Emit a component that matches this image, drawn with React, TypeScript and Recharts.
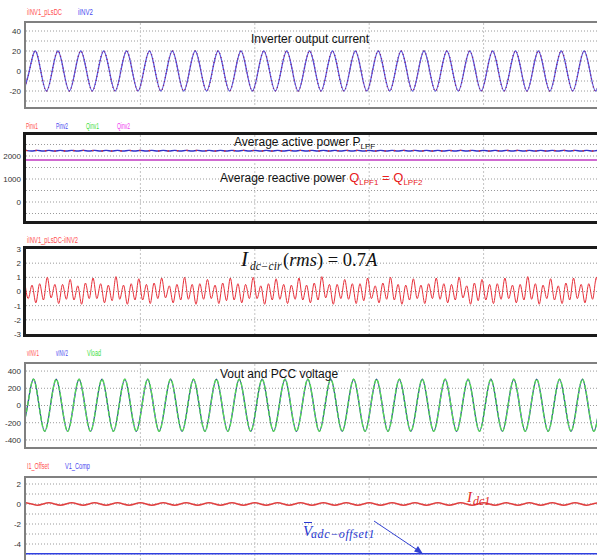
import { LineChart, Line, XAxis, YAxis, CartesianGrid } from 'recharts'
import type { ReactNode } from 'react'

const W = 598
const sans = "'Liberation Sans', Arial, sans-serif"
const narrow = "'Liberation Sans Narrow', 'Arial Narrow', 'Liberation Sans', Arial, sans-serif"
const serif = "'Liberation Serif', 'Times New Roman', serif"

// shared time axis, one unit = a quarter of the line period
const timeDomain = [0, 100]
const timeGrid = [20, 40, 60, 80]

// panel 1: inverter output current, zero crossings / peaks from t = -0.42
const iStart = -0.42
const iInv1 = [
  -20, 0, 20, 0, -20, 0, 20, 0, -20, 0, 20, 0, -20, 0, 20, 0,
  -20, 0, 20, 0, -20, 0, 20, 0, -20, 0, 20, 0, -20, 0, 20, 0,
  -20, 0, 20, 0, -20, 0, 20, 0, -20, 0, 20, 0, -20, 0, 20, 0,
  -20, 0, 20, 0, -20, 0, 20, 0, -20, 0, 20, 0, -20, 0, 20, 0,
  -20, 0, 20, 0, -20, 0, 20, 0, -20, 0, 20, 0, -20, 0, 20, 0,
  -20, 0, 20, 0, -20, 0, 20, 0, -20, 0, 20, 0, -20, 0, 20, 0,
  -20, 0, 20, 0, -20, 0,
]
const iInv2 = iInv1
const iTicks = [40, 20, 0, -20]
const iGrid = [40, 30, 20, 10, 0, -10, -20, -30]

// panel 2: averaged active / reactive power
const pStart = 0
const pInv = [
  2245, 2215, 2245, 2215, 2245, 2215, 2245, 2215, 2245, 2215, 2245, 2215, 2245, 2215, 2245, 2215,
  2245, 2215, 2245, 2215, 2245, 2215, 2245, 2215, 2245, 2215, 2245, 2215, 2245, 2215, 2245, 2215,
  2245, 2215, 2245, 2215, 2245, 2215, 2245, 2215, 2245, 2215, 2245, 2215, 2245, 2215, 2245, 2215,
  2245, 2215, 2245, 2215, 2245, 2215, 2245, 2215, 2245, 2215, 2245, 2215, 2245, 2215, 2245, 2215,
  2245, 2215, 2245, 2215, 2245, 2215, 2245, 2215, 2245, 2215, 2245, 2215, 2245, 2215, 2245, 2215,
  2245, 2215, 2245, 2215, 2245, 2215, 2245, 2215, 2245, 2215, 2245, 2215, 2245, 2215, 2245, 2215,
  2245, 2215, 2245, 2215, 2245,
]
const qTimes = [0, 100]
const qInv = [1826, 1826]
const pTicks = [2000, 1000, 0]
const pGrid = [2500, 2000, 1500, 1000, 500, 0, -500]

// panel 3: circulating current, peaks/valleys every 2/3 unit from t = -0.28
const cStart = -0.28
const cStep = 4 / 6
const iCir = [
  0.9, -0.5, 0.45, -0.8, 0.55, -0.6,
  1.0, -0.45, 0.5, -0.85, 0.5, -0.55,
  0.85, -0.6, 0.4, -0.9, 0.6, -0.5,
  0.95, -0.5, 0.55, -0.8, 0.45, -0.65,
  1.05, -0.55, 0.45, -0.9, 0.55, -0.6,
  0.9, -0.6, 0.5, -0.85, 0.6, -0.5,
  0.95, -0.45, 0.4, -0.8, 0.5, -0.6,
  1.0, -0.55, 0.5, -0.9, 0.55, -0.55,
  0.85, -0.5, 0.45, -0.85, 0.6, -0.65,
  0.95, -0.6, 0.55, -0.8, 0.5, -0.5,
  1.0, -0.5, 0.4, -0.9, 0.55, -0.6,
  0.9, -0.55, 0.5, -0.85, 0.45, -0.55,
  0.95, -0.6, 0.45, -0.8, 0.6, -0.6,
  1.05, -0.45, 0.5, -0.9, 0.5, -0.5,
  0.85, -0.55, 0.55, -0.85, 0.55, -0.65,
  0.95, -0.5, 0.4, -0.8, 0.6, -0.55,
  1.0, -0.6, 0.5, -0.9, 0.45, -0.6,
  0.9, -0.5, 0.45, -0.85, 0.55, -0.5,
  0.95, -0.55, 0.55, -0.8, 0.5, -0.6,
  1.0, -0.45, 0.4, -0.9, 0.6, -0.65,
  0.85, -0.6, 0.5, -0.85, 0.55, -0.55,
  0.95, -0.5, 0.45, -0.8, 0.5, -0.6,
  1.05, -0.55, 0.55, -0.9, 0.45, -0.5,
  0.9, -0.6, 0.4, -0.85, 0.6, -0.6,
  0.95, -0.5, 0.5, -0.8, 0.55, -0.55,
  1.0, -0.55, 0.45, -0.9, 0.5, -0.6,
]
const cTicks = [3, 2, 1, 0, -1, -2, -3]
const cGrid = [2, 1, 0, -1, -2]

// panel 4: inverter and load voltages, from t = -0.72
const vStart = -0.72
const vInv = [
  -300, 0, 305, 0, -300, 0, 305, 0, -300, 0, 305, 0, -300, 0, 305, 0,
  -300, 0, 305, 0, -300, 0, 305, 0, -300, 0, 305, 0, -300, 0, 305, 0,
  -300, 0, 305, 0, -300, 0, 305, 0, -300, 0, 305, 0, -300, 0, 305, 0,
  -300, 0, 305, 0, -300, 0, 305, 0, -300, 0, 305, 0, -300, 0, 305, 0,
  -300, 0, 305, 0, -300, 0, 305, 0, -300, 0, 305, 0, -300, 0, 305, 0,
  -300, 0, 305, 0, -300, 0, 305, 0, -300, 0, 305, 0, -300, 0, 305, 0,
  -300, 0, 305, 0, -300, 0,
]
const vLoad = vInv
const vTicks = [400, 200, 0, -200, -400]
const vGrid = [400, 200, 0, -200, -400]

// panel 5: offset estimate and compensation
const oStart = 0
const i1Offset = [
  0.12, 0, -0.12, 0, 0.12, 0, -0.12, 0, 0.12, 0, -0.12, 0, 0.12, 0, -0.12, 0,
  0.12, 0, -0.12, 0, 0.12, 0, -0.12, 0, 0.12, 0, -0.12, 0, 0.12, 0, -0.12, 0,
  0.12, 0, -0.12, 0, 0.12, 0, -0.12, 0, 0.12, 0, -0.12, 0, 0.12, 0, -0.12, 0,
  0.12, 0, -0.12, 0, 0.12, 0, -0.12, 0, 0.12, 0, -0.12, 0, 0.12, 0, -0.12, 0,
  0.12, 0, -0.12, 0, 0.12, 0, -0.12, 0, 0.12, 0, -0.12, 0, 0.12, 0, -0.12, 0,
  0.12, 0, -0.12, 0, 0.12, 0, -0.12, 0, 0.12, 0, -0.12, 0, 0.12, 0, -0.12, 0,
  0.12, 0, -0.12, 0, 0.12,
]
const compTimes = [0, 100]
const v1Comp = [-4.97, -4.97]
const oTicks = [2, 0, -2, -4]
const oGrid = [2, 1, 0, -1, -2, -3, -4, -5]

const rows = (start: number, step: number, a: number[], b?: number[]) =>
  a.map((v, i) => ({ t: start + i * step, a: v, b: b ? b[i] : v }))

const p1Data = rows(iStart, 1, iInv1, iInv2)
const p2Data = rows(pStart, 1, pInv)
const qData = qTimes.map((t, i) => ({ t, q: qInv[i] }))
const p3Data = rows(cStart, cStep, iCir)
const p4Data = rows(vStart, 1, vInv, vLoad)
const p5Data = rows(oStart, 1, i1Offset)
const compData = compTimes.map((t, i) => ({ t, c: v1Comp[i] }))

type PanelProps = {
  top: number
  bottom: number
  data: object[]
  domain: number[]
  ticks: number[]
  grid: number[]
  children: ReactNode
}

function Panel({ top, bottom, data, domain, ticks, grid, children }: PanelProps) {
  const h = bottom - top
  return (
    <div style={{ position: 'absolute', left: 0, top: top - 8 }}>
      <LineChart width={W} height={h + 16} data={data} margin={{ top: 8, right: 0, bottom: 8, left: 0 }}>
        <CartesianGrid vertical={false} horizontalValues={grid} stroke="#9a9a9a" strokeDasharray="1 2" />
        <CartesianGrid horizontal={false} verticalValues={timeGrid} stroke="#c4c4c4" strokeDasharray="2 2" />
        <XAxis type="number" dataKey="t" domain={timeDomain} allowDataOverflow hide />
        <YAxis
          type="number"
          domain={domain}
          ticks={ticks}
          interval={0}
          allowDataOverflow
          width={26}
          axisLine={false}
          tickLine={false}
          tickSize={3}
          tickMargin={2}
          tick={{ fontSize: 8, fill: '#333', fontFamily: narrow }}
        />
        {children}
      </LineChart>
    </div>
  )
}

// plot frames: top, bottom, border width, colour (open on the right, cut by the image)
type Frame = { top: number; bottom: number; bw: number; color: string }
const frames: Frame[] = [
  { top: 23, bottom: 107, bw: 2, color: '#808080' },
  { top: 135, bottom: 221, bw: 3, color: '#1a1a1a' },
  { top: 249, bottom: 334, bw: 3, color: '#1a1a1a' },
  { top: 364, bottom: 447, bw: 2, color: '#808080' },
  { top: 478, bottom: 562, bw: 2, color: '#808080' },
]

type Tag = { x: number; y: number; w: number; color: string; text: string }
const legendTags: Tag[] = [
  { x: 27, y: 15, w: 35, color: '#ff5050', text: 'iINV1_pLsDC' },
  { x: 78, y: 15, w: 15, color: '#4a4af0', text: 'iINV2' },
  { x: 26, y: 129, w: 12, color: '#ff5050', text: 'Pinv1' },
  { x: 56, y: 129, w: 12, color: '#4a4af0', text: 'Pinv2' },
  { x: 86, y: 129, w: 13, color: '#40e040', text: 'Qinv1' },
  { x: 117, y: 129, w: 13, color: '#f040f0', text: 'Qinv2' },
  { x: 27, y: 243, w: 51, color: '#ff5050', text: 'iINV1_pLsDC-iINV2' },
  { x: 27, y: 356, w: 12, color: '#ff5050', text: 'vINV1' },
  { x: 56, y: 356, w: 12, color: '#4a4af0', text: 'vINV2' },
  { x: 87, y: 356, w: 14, color: '#40e040', text: 'Vload' },
  { x: 27, y: 469, w: 22, color: '#ff5050', text: 'I1_Offset' },
  { x: 65, y: 469, w: 25, color: '#4a4af0', text: 'V1_Comp' },
]

export default function App() {
  return (
    <div style={{ position: 'absolute', left: 0, top: 0, width: 597, height: 560, background: '#fff', overflow: 'hidden' }}>
      <Panel top={23} bottom={107} data={p1Data} domain={[-36, 48]} ticks={iTicks} grid={iGrid}>
        <Line type="natural" dataKey="b" stroke="#5858e0" strokeWidth={1.3} dot={false} isAnimationActive={false} />
        <Line type="natural" dataKey="a" stroke="#8a2070" strokeWidth={1.3} strokeDasharray="1 3" dot={false} isAnimationActive={false} />
      </Panel>

      <Panel top={135} bottom={221} data={p2Data} domain={[-826, 2913]} ticks={pTicks} grid={pGrid}>
        <Line data={qData} type="linear" dataKey="q" stroke="#40e040" strokeWidth={1.5} dot={false} isAnimationActive={false} />
        <Line data={qData} type="linear" dataKey="q" stroke="#f040f0" strokeWidth={1.5} dot={false} isAnimationActive={false} />
        <Line type="natural" dataKey="b" stroke="#3030c8" strokeWidth={1.4} dot={false} isAnimationActive={false} />
        <Line type="natural" dataKey="a" stroke="#e03030" strokeWidth={1.4} strokeDasharray="1.5 8" dot={false} isAnimationActive={false} />
      </Panel>

      <Panel top={249} bottom={334} data={p3Data} domain={[-3, 3]} ticks={cTicks} grid={cGrid}>
        <Line type="monotone" dataKey="a" stroke="#e8303a" strokeWidth={1} dot={false} isAnimationActive={false} />
      </Panel>

      <Panel top={364} bottom={447} data={p4Data} domain={[-482, 482]} ticks={vTicks} grid={vGrid}>
        <Line type="natural" dataKey="a" stroke="#3040a0" strokeWidth={1.3} dot={false} isAnimationActive={false} />
        <Line type="natural" dataKey="b" stroke="#55d855" strokeWidth={1.4} strokeDasharray="5 1.5" dot={false} isAnimationActive={false} />
      </Panel>

      <Panel top={478} bottom={562} data={p5Data} domain={[-5.8, 2.6]} ticks={oTicks} grid={oGrid}>
        <Line type="natural" dataKey="a" stroke="#e04040" strokeWidth={1.5} dot={false} isAnimationActive={false} />
        <Line data={compData} type="linear" dataKey="c" stroke="#3040e0" strokeWidth={1.6} dot={false} isAnimationActive={false} />
      </Panel>

      <svg width={597} height={560} style={{ position: 'absolute', left: 0, top: 0, pointerEvents: 'none' }}>
        {frames.map((f) => (
          <g key={f.top} stroke={f.color} strokeWidth={f.bw}>
            <line x1={26 - f.bw} y1={f.top - f.bw / 2} x2={620} y2={f.top - f.bw / 2} />
            <line x1={26 - f.bw} y1={f.bottom + f.bw / 2} x2={620} y2={f.bottom + f.bw / 2} />
            <line x1={26 - f.bw / 2} y1={f.top - f.bw} x2={26 - f.bw / 2} y2={f.bottom + f.bw} />
          </g>
        ))}

        <g fontFamily={narrow} fontSize={8.5}>
          {legendTags.map((tg) => (
            <text key={tg.text + tg.y} x={tg.x} y={tg.y} fill={tg.color} textLength={tg.w} lengthAdjust="spacingAndGlyphs">
              {tg.text}
            </text>
          ))}
        </g>

        <text x={251} y={43} fontFamily={sans} fontSize={12} fill="#111">Inverter output current</text>
        <text x={234} y={145.5} fontFamily={sans} fontSize={12} fill="#111">
          Average active power P<tspan fontSize={8} dy={3}>LPF</tspan>
        </text>
        <text x={220} y={181.5} fontFamily={sans} fontSize={12} fill="#111">
          Average reactive power{' '}
          <tspan fill="#e82020" fontSize={13}>Q</tspan>
          <tspan fill="#e82020" fontSize={8} dy={3}>LPF1</tspan>
          <tspan fill="#e82020" fontSize={13} dy={-3}> = Q</tspan>
          <tspan fill="#e82020" fontSize={8} dy={3}>LPF2</tspan>
        </text>
        <text x={220} y={377.5} fontFamily={sans} fontSize={12} fill="#111">Vout and PCC voltage</text>

        <text x={241} y={266} fontFamily={serif} fontStyle="italic" fontSize={21} fill="#111">I</text>
        <text x={250} y={270} fontFamily={serif} fontStyle="italic" fontSize={11.5} fill="#111">dc−cir</text>
        <text x={283} y={265.5} fontFamily={serif} fontSize={18.5} fill="#111">
          (<tspan fontStyle="italic">rms</tspan>) = 0.7<tspan fontStyle="italic">A</tspan>
        </text>

        <text x={467} y={502} fontFamily={serif} fontStyle="italic" fontSize={15} fill="#e02828">I</text>
        <text x={473} y={505} fontFamily={serif} fontStyle="italic" fontSize={12} fill="#e02828">dc1</text>

        <line x1={304} y1={522.5} x2={312} y2={522.5} stroke="#2838d0" strokeWidth={1} />
        <text x={303} y={536} fontFamily={serif} fontStyle="italic" fontSize={15} fill="#2838d0">V</text>
        <text x={311} y={538} fontFamily={serif} fontStyle="italic" fontSize={12} letterSpacing={0.6} fill="#2838d0">adc−offset1</text>

        <line x1={374} y1={521} x2={418} y2={550.5} stroke="#3040d0" strokeWidth={1} />
        <polygon points="423,554 414,551.5 418,546" fill="#3040d0" />
      </svg>
    </div>
  )
}
